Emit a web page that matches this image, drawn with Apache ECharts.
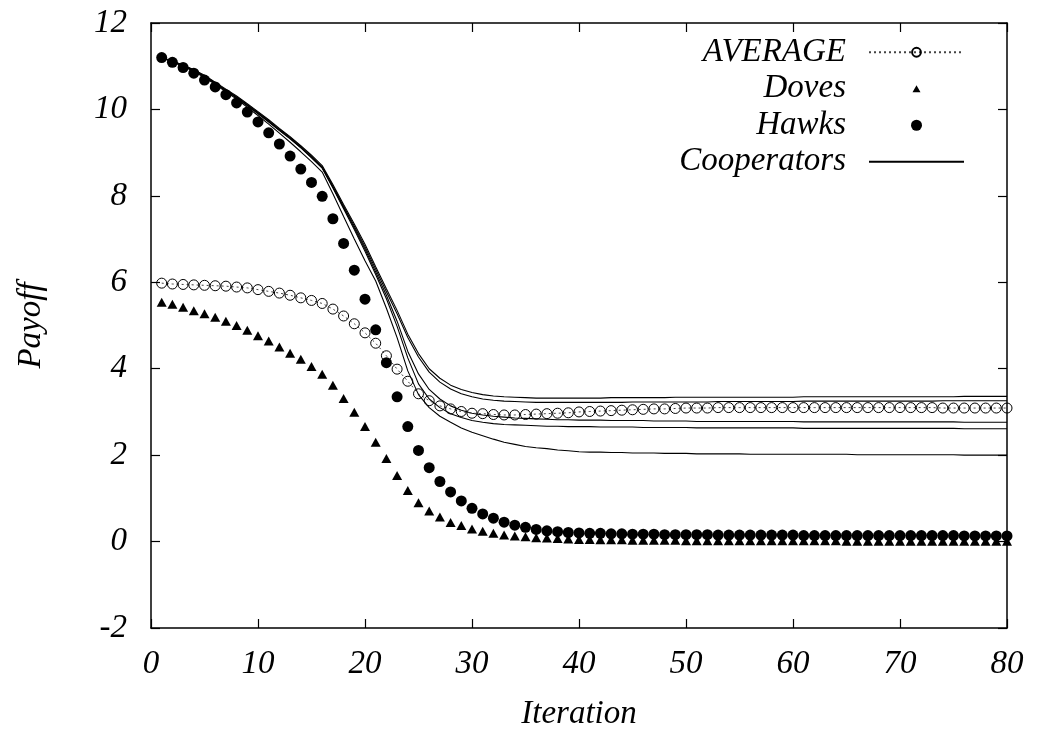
<!DOCTYPE html>
<html>
<head>
<meta charset="utf-8">
<script src="https://cdn.jsdelivr.net/npm/echarts@6/dist/echarts.min.js"></script>
<style>
html,body{margin:0;padding:0;background:#fff;}
#chart{width:1037px;height:740px;}
</style>
</head>
<body>
<div id="chart"></div>
<script>
var iterations = [1,2,3,4,5,6,7,8,9,10,11,12,13,14,15,16,17,18,19,20,21,22,23,24,25,26,27,28,29,30,31,32,33,34,35,36,37,38,39,40,41,42,43,44,45,46,47,48,49,50,51,52,53,54,55,56,57,58,59,60,61,62,63,64,65,66,67,68,69,70,71,72,73,74,75,76,77,78,79,80];

var averageValues = [5.98,5.96,5.95,5.94,5.93,5.92,5.91,5.89,5.87,5.83,
5.79,5.75,5.70,5.64,5.58,5.51,5.38,5.22,5.04,4.83,
4.59,4.30,3.99,3.71,3.42,3.26,3.14,3.07,3.01,2.97,
2.96,2.94,2.93,2.93,2.94,2.95,2.96,2.97,2.98,3.00,
3.01,3.02,3.03,3.04,3.05,3.06,3.07,3.07,3.08,3.09,
3.09,3.09,3.10,3.10,3.10,3.10,3.10,3.10,3.10,3.10,
3.10,3.10,3.10,3.10,3.10,3.10,3.10,3.10,3.10,3.10,
3.10,3.10,3.10,3.09,3.09,3.09,3.09,3.09,3.09,3.09];

var dovesValues = [5.54,5.49,5.42,5.34,5.27,5.19,5.10,5.00,4.89,4.76,
4.64,4.50,4.36,4.22,4.05,3.87,3.62,3.31,2.99,2.66,
2.30,1.92,1.53,1.18,0.90,0.71,0.57,0.44,0.37,0.29,
0.24,0.19,0.15,0.13,0.11,0.09,0.08,0.07,0.06,0.05,
0.05,0.04,0.04,0.04,0.03,0.03,0.03,0.03,0.03,0.02,
0.02,0.02,0.02,0.02,0.02,0.02,0.02,0.02,0.02,0.02,
0.02,0.02,0.02,0.02,0.01,0.01,0.01,0.01,0.01,0.01,
0.01,0.01,0.01,0.01,0.01,0.01,0.01,0.01,0.01,0.01];

var hawksValues = [11.20,11.09,10.97,10.84,10.68,10.52,10.34,10.15,9.94,9.71,
9.46,9.20,8.92,8.62,8.31,7.99,7.47,6.90,6.28,5.61,
4.90,4.14,3.35,2.66,2.11,1.71,1.39,1.15,0.94,0.77,
0.64,0.54,0.45,0.38,0.33,0.28,0.25,0.23,0.21,0.20,
0.19,0.19,0.18,0.18,0.17,0.17,0.17,0.16,0.16,0.16,
0.16,0.16,0.15,0.15,0.15,0.15,0.15,0.15,0.15,0.15,
0.14,0.14,0.14,0.14,0.14,0.14,0.14,0.14,0.14,0.14,
0.14,0.14,0.14,0.14,0.14,0.13,0.13,0.13,0.13,0.13];

var coop1Values = [11.20,11.12,11.03,10.92,10.79,10.63,10.47,10.31,10.13,9.95,
9.76,9.56,9.37,9.16,8.94,8.70,8.26,7.80,7.35,6.88,
6.36,5.85,5.35,4.80,4.35,4.00,3.78,3.62,3.52,3.45,
3.40,3.37,3.35,3.34,3.33,3.32,3.32,3.32,3.32,3.32,
3.32,3.32,3.33,3.33,3.33,3.33,3.33,3.33,3.34,3.34,
3.34,3.34,3.34,3.34,3.34,3.34,3.34,3.34,3.34,3.34,
3.35,3.35,3.35,3.35,3.35,3.35,3.35,3.35,3.35,3.35,
3.35,3.35,3.35,3.35,3.35,3.36,3.36,3.36,3.36,3.36];

var coop2Values = [11.20,11.11,11.02,10.91,10.77,10.61,10.45,10.29,10.11,9.93,
9.74,9.54,9.35,9.14,8.91,8.67,8.22,7.76,7.30,6.82,
6.30,5.78,5.27,4.72,4.27,3.92,3.69,3.53,3.42,3.35,
3.30,3.27,3.25,3.24,3.23,3.22,3.22,3.22,3.22,3.22,
3.22,3.22,3.22,3.22,3.23,3.23,3.23,3.23,3.23,3.23,
3.23,3.23,3.24,3.24,3.24,3.24,3.24,3.24,3.24,3.24,
3.25,3.25,3.25,3.25,3.25,3.25,3.25,3.25,3.25,3.25,
3.25,3.25,3.25,3.26,3.26,3.26,3.26,3.26,3.26,3.26];

var coop3Values = [11.20,11.11,11.01,10.90,10.76,10.60,10.44,10.27,10.09,9.91,
9.72,9.52,9.33,9.12,8.89,8.65,8.20,7.73,7.26,6.77,
6.24,5.70,5.10,4.40,3.88,3.52,3.30,3.14,3.04,2.97,
2.93,2.90,2.88,2.86,2.85,2.84,2.83,2.82,2.82,2.81,
2.81,2.81,2.80,2.80,2.80,2.80,2.79,2.79,2.79,2.79,
2.78,2.78,2.78,2.78,2.78,2.78,2.78,2.78,2.78,2.78,
2.77,2.77,2.77,2.77,2.77,2.77,2.77,2.77,2.77,2.77,
2.77,2.77,2.77,2.77,2.77,2.76,2.76,2.76,2.76,2.76];

var coop4Values = [11.20,11.11,11.01,10.90,10.76,10.60,10.44,10.27,10.09,9.90,
9.71,9.51,9.32,9.11,8.88,8.64,8.18,7.70,7.22,6.72,
6.18,5.62,4.98,4.25,3.65,3.30,3.10,2.96,2.87,2.80,
2.76,2.73,2.71,2.70,2.69,2.68,2.67,2.67,2.66,2.66,
2.66,2.65,2.65,2.65,2.65,2.64,2.64,2.64,2.64,2.64,
2.63,2.63,2.63,2.63,2.63,2.63,2.63,2.63,2.63,2.63,
2.62,2.62,2.62,2.62,2.62,2.62,2.62,2.62,2.62,2.62,
2.62,2.62,2.62,2.62,2.62,2.61,2.61,2.61,2.61,2.61];

var coop5Values = [11.20,11.10,11.00,10.88,10.74,10.58,10.41,10.24,10.05,9.86,
9.66,9.45,9.24,9.02,8.79,8.55,8.05,7.52,7.00,6.50,
6.03,5.40,4.72,3.95,3.40,3.10,2.90,2.76,2.63,2.53,
2.45,2.37,2.30,2.25,2.20,2.17,2.15,2.12,2.10,2.08,
2.07,2.07,2.06,2.06,2.05,2.05,2.05,2.04,2.04,2.04,
2.03,2.03,2.03,2.03,2.03,2.02,2.02,2.02,2.02,2.02,
2.02,2.02,2.02,2.02,2.02,2.01,2.01,2.01,2.01,2.01,
2.01,2.01,2.01,2.01,2.01,2.00,2.00,2.00,2.00,2.00];

function pairs(vals){
  var out = [];
  for (var i = 0; i < iterations.length; i++) out.push([iterations[i], vals[i]]);
  return out;
}

var FONT = 'Liberation Serif';
var labelStyle = {fontFamily: FONT, fontStyle: 'italic', fontSize: 33, color: '#000'};

var chart = echarts.init(document.getElementById('chart'));

function coopSeries(vals){
  return {
    name: 'Cooperators', type: 'line', data: pairs(vals),
    symbol: 'none', lineStyle: {color: '#000', width: 1.1}, z: 2, silent: true
  };
}

var axisLineStyle = {show: true, onZero: false, lineStyle: {color: '#000', width: 1.5}};
var tickStyle = {show: true, inside: true, length: 9, lineStyle: {color: '#000', width: 1.2}};

// legend icon: small triangle centred in a 95x11 box (tiny corner marks fix the box)
var doveIcon = 'path://M0,0L0.01,0L0,0.01Z M95,11L94.99,11L95,10.99Z M47.5,2L51.5,9L43.5,9Z';

var option = {
  animation: false,
  backgroundColor: '#fff',
  grid: {left: 151, right: 30, top: 23, bottom: 112, containLabel: false},
  legend: {
    orient: 'vertical',
    align: 'right',
    right: 67,
    top: 29,
    itemWidth: 95,
    itemHeight: 11,
    itemGap: 0,
    selectedMode: false,
    textStyle: {fontFamily: FONT, fontStyle: 'italic', fontSize: 33, color: '#000', lineHeight: 36.5, padding: [0, 18, 0, 0]},
    data: [
      {name: 'AVERAGE'},
      {name: 'Doves', icon: doveIcon},
      {name: 'Hawks', icon: 'circle'},
      {name: 'Cooperators', itemStyle: {color: 'transparent', borderWidth: 0, borderColor: 'transparent'}}
    ]
  },
  xAxis: [{
    type: 'value', min: 0, max: 80, interval: 10, position: 'bottom',
    axisLine: axisLineStyle, axisTick: tickStyle, splitLine: {show: false},
    axisLabel: Object.assign({margin: 20}, labelStyle),
    name: 'Iteration', nameLocation: 'middle', nameGap: 70,
    nameTextStyle: labelStyle
  }, {
    type: 'value', min: 0, max: 80, interval: 10, position: 'top',
    axisLine: axisLineStyle, axisTick: tickStyle, splitLine: {show: false},
    axisLabel: {show: false}
  }],
  yAxis: [{
    type: 'value', min: -2, max: 12, interval: 2, position: 'left',
    axisLine: axisLineStyle, axisTick: tickStyle, splitLine: {show: false},
    axisLabel: Object.assign({margin: 24}, labelStyle),
    name: 'Payoff', nameLocation: 'middle', nameGap: 103, nameRotate: 90,
    nameTextStyle: labelStyle
  }, {
    type: 'value', min: -2, max: 12, interval: 2, position: 'right',
    axisLine: axisLineStyle, axisTick: tickStyle, splitLine: {show: false},
    axisLabel: {show: false}
  }],
  series: [
    coopSeries(coop1Values),
    coopSeries(coop2Values),
    coopSeries(coop3Values),
    coopSeries(coop4Values),
    coopSeries(coop5Values),
    {
      name: 'AVERAGE', type: 'line', data: pairs(averageValues),
      symbol: 'circle', symbolSize: 10, showSymbol: true,
      itemStyle: {color: 'rgba(255,255,255,0)', borderColor: '#000', borderWidth: 1, opacity: 1},
      lineStyle: {color: '#444', width: 1, type: [2, 3]}, z: 3
    },
    {
      name: 'Doves', type: 'scatter', data: pairs(dovesValues),
      symbol: 'triangle', symbolSize: [10, 9],
      itemStyle: {color: '#000', opacity: 1}, z: 4
    },
    {
      name: 'Hawks', type: 'scatter', data: pairs(hawksValues),
      symbol: 'circle', symbolSize: 11,
      itemStyle: {color: '#000', opacity: 1}, z: 5
    }
  ]
};
chart.setOption(option);
</script>
</body>
</html>
